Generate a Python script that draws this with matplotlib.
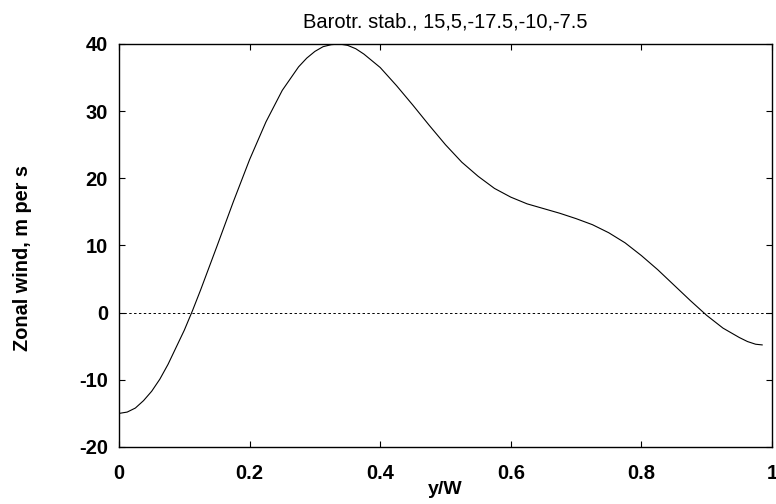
import matplotlib
matplotlib.use("Agg")
import matplotlib.pyplot as plt

# y/W positions and zonal wind (m/s)
y_w = [0.0, 0.0125, 0.025, 0.0375, 0.05, 0.0625, 0.075, 0.1, 0.1125, 0.125,
       0.15, 0.175, 0.2, 0.225, 0.25, 0.275, 0.2875, 0.3, 0.3125, 0.325,
       0.3375, 0.35, 0.3625, 0.375, 0.4, 0.425, 0.45, 0.475, 0.5, 0.525,
       0.55, 0.575, 0.6, 0.625, 0.65, 0.675, 0.7, 0.725, 0.75, 0.775,
       0.8, 0.825, 0.85, 0.875, 0.9, 0.925, 0.95, 0.9625, 0.975, 0.985]
wind = [-15.0, -14.8, -14.2, -13.1, -11.7, -9.9, -7.7, -2.6, 0.3, 3.4,
        9.9, 16.5, 22.8, 28.4, 33.1, 36.6, 37.9, 38.9, 39.6, 39.9,
        40.0, 39.8, 39.3, 38.5, 36.5, 33.8, 30.9, 27.9, 25.0, 22.4,
        20.3, 18.5, 17.2, 16.2, 15.5, 14.8, 14.0, 13.1, 11.9, 10.4,
        8.5, 6.4, 4.1, 1.8, -0.4, -2.3, -3.7, -4.3, -4.7, -4.8]

x_ticks = [0, 0.2, 0.4, 0.6, 0.8, 1]
x_tick_labels = ["0", "0.2", "0.4", "0.6", "0.8", "1"]
y_ticks = [-20, -10, 0, 10, 20, 30, 40]

plt.rcParams['font.family'] = ['Liberation Sans', 'DejaVu Sans']
plt.rcParams['axes.unicode_minus'] = False

fig = plt.figure(figsize=(7.76, 5.04), dpi=100)
ax = fig.add_axes([0.1534, 0.1131, 0.8414, 0.7996])

ax.plot([0, 1], [0, 0], color='black', linestyle=(0, (2.5, 2.5)), linewidth=0.7)
ax.plot(y_w, wind, color='black', linewidth=0.8)

ax.set_xlim(0, 1)
ax.set_ylim(-20, 40)
ax.set_xticks(x_ticks)
ax.set_xticklabels(x_tick_labels)
ax.set_yticks(y_ticks)
ax.tick_params(direction='in', top=True, right=True, length=4, width=0.8,
               labelsize=14.5)
ax.tick_params(axis='x', pad=12)
ax.tick_params(axis='y', pad=8)
for lab in ax.get_xticklabels() + ax.get_yticklabels():
    lab.set_fontweight('bold')
for s in ax.spines.values():
    s.set_linewidth(1.0)

ax.set_title("Barotr. stab., 15,5,-17.5,-10,-7.5", fontsize=14.5, pad=12)
ax.set_xlabel("y/W", fontsize=14, fontweight='bold', va='top')
ax.xaxis.set_label_coords(0.5, -0.084)
ax.set_ylabel("Zonal wind, m per s", fontsize=14.3, fontweight='bold')
ax.yaxis.set_label_coords(-0.133, 0.47)

fig.savefig("out.png", dpi=100)
